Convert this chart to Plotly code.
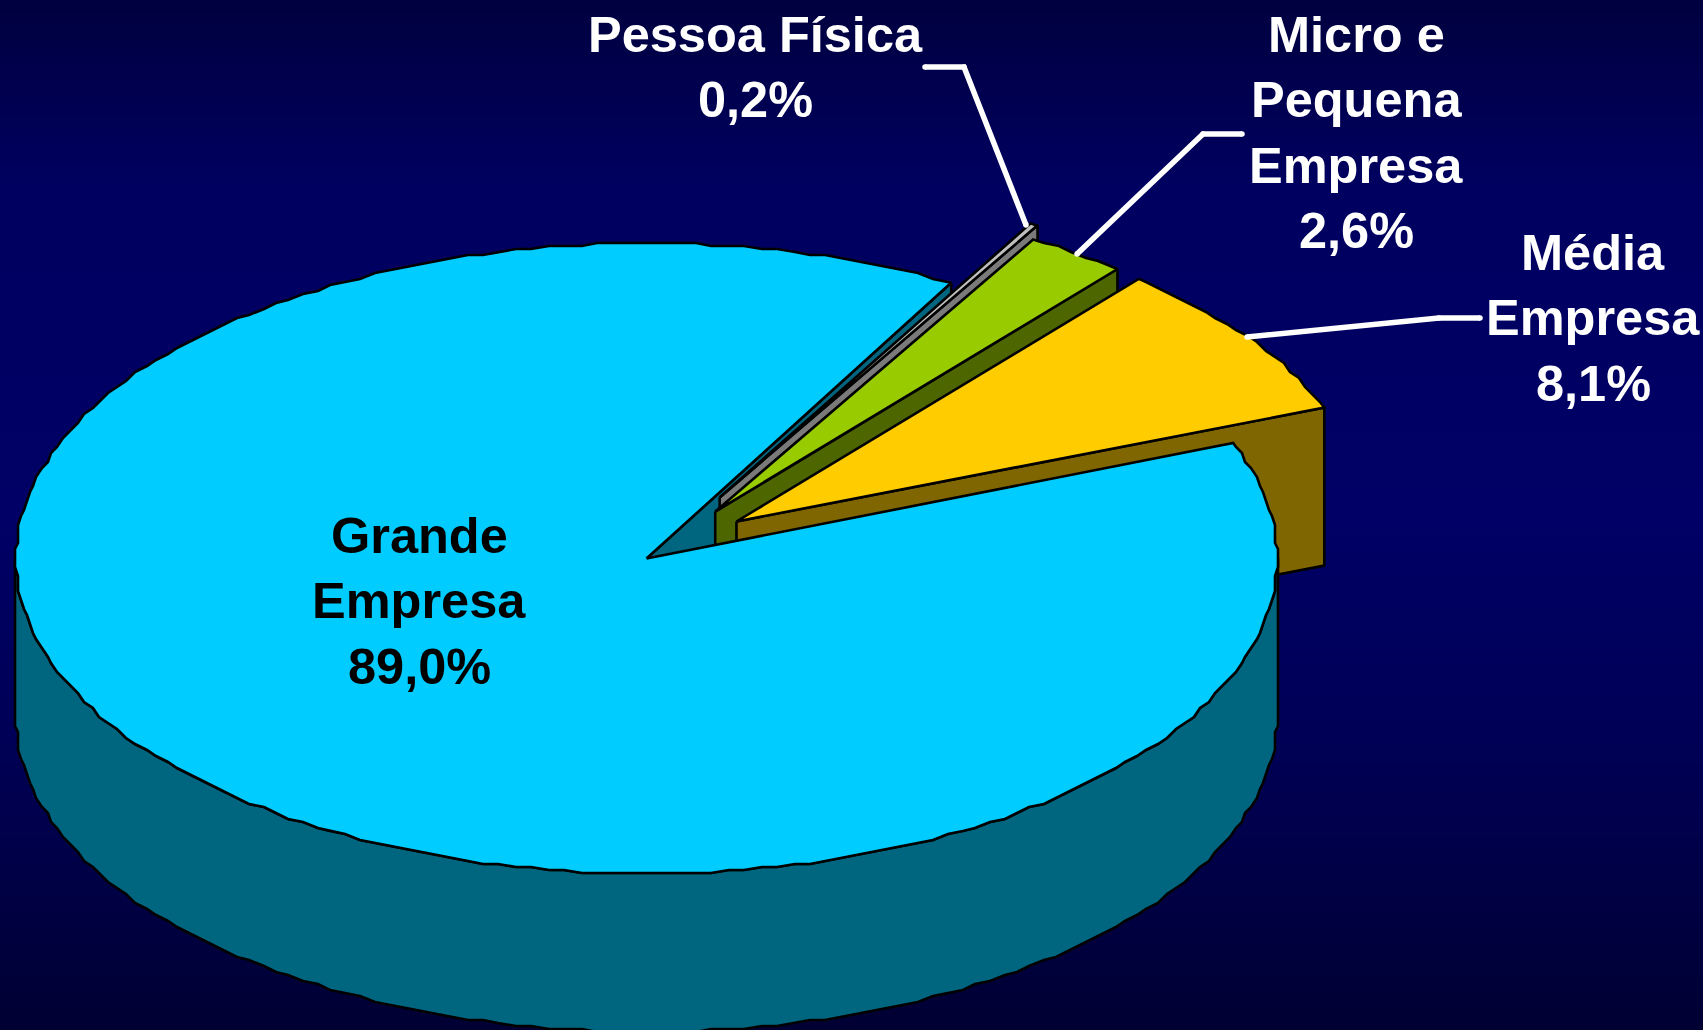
import numpy as np
import plotly.graph_objects as go

# ---- data ----
categories = ["Grande Empresa", "Pessoa Física", "Micro e Pequena Empresa", "Média Empresa"]
values = [89.0, 0.2, 2.6, 8.1]
label_lines = [["Grande", "Empresa", "89,0%"], ["Pessoa Física", "0,2%"],
               ["Micro e", "Pequena", "Empresa", "2,6%"], ["Média", "Empresa", "8,1%"]]

# ---- styles / layout ----
W, H = 1703, 1030
top_colors = ["#00CCFF", "#C0C0C0", "#99CC00", "#FFCC00"]
side_colors = ["#006680", "#7A7A7A", "#4D6600", "#806600"]
label_colors = ["black", "white", "white", "white"]
CX, CY, RX, RY, DEPTH = 646.5, 558.5, 630.5, 315.0, 158.0
START_ANGLE = 68.5          # big slice, clockwise from 12 o'clock
SMALL_START = 29.56         # first of the small slices
GRID = 3.0                  # the original outline is slightly quantised
STEP = 1.5                  # degrees between outline samples
explode = [(0, 0), (0.116, -0.194), (0.109, -0.149), (0.1427, -0.1175)]
label_x = [419, 755, 1356, 1593]
label_y = [535, 34, 34, 252]
LINE_STEP = 65.5
FONT = "Liberation Sans, Arial, sans-serif"
FONT_SIZE = 50.5
leaders = [
    ([925, 964, 1026], [67, 67, 225]),
    ([1242, 1203, 1077], [134, 134, 254]),
    ([1480, 1439, 1247], [318, 318, 337]),
]
bg_stops = [[0, "#00003F"], [0.18, "#000060"], [0.5, "#000066"], [0.72, "#000056"], [1, "#000033"]]

sweeps = [v / 100 * 360 for v in values]


def point(angle, ox, oy, dz=0.0):
    t = np.radians(angle)
    return CX + (ox + np.sin(t)) * RX, CY + (oy - np.cos(t)) * RY + dz


def arc(a0, a1, ox, oy, dz=0.0, snap_ends=False):
    """Outline samples on a fixed angular grid, so neighbouring outlines coincide."""
    lo, hi = min(a0, a1), max(a0, a1)
    inner = np.arange(np.floor(lo / STEP) + 1, np.ceil(hi / STEP)) * STEP
    angles = np.r_[lo, inner, hi]
    if a0 > a1:
        angles = angles[::-1]
    x, y = point(angles, ox, oy, dz)
    first, last = (None, None) if snap_ends else (1, -1)
    x[first:last] = np.round(x[first:last] / GRID) * GRID
    y[first:last] = np.round(y[first:last] / GRID) * GRID
    return x, y


def poly(xs, ys, color, name):
    return go.Scatter(x=list(xs), y=list(ys), mode="lines", fill="toself", fillcolor=color,
                      line=dict(color="black", width=2.6), hoverinfo="skip", name=name, showlegend=False)


def wedge(a0, a1, off):
    ax, ay = CX + off[0] * RX, CY + off[1] * RY
    x, y = arc(a0, a1, *off)
    return np.r_[ax, x, ax], np.r_[ay, y, ay]


def cut_wall(angle, off):
    """Radial wall below the ray at the given angle."""
    ax, ay = CX + off[0] * RX, CY + off[1] * RY
    ex, ey = point(angle, *off)
    return [ax, ex, ex, ax, ax], [ay, ey, ey + DEPTH, ay + DEPTH, ay]


# slice angle ranges, clockwise
ranges = [(START_ANGLE, START_ANGLE + sweeps[0])]
a = SMALL_START
for s in sweeps[1:]:
    ranges.append((a, a + s))
    a += s

fig = go.Figure()

# background gradient
rows = np.linspace(0, 1, 206)
fig.add_trace(go.Heatmap(x=[0, W], y=np.linspace(0, H, 206), z=np.c_[rows, rows], colorscale=bg_stops,
                         zmin=0, zmax=1, showscale=False, hoverinfo="skip", zsmooth="best"))

# wall of the big slice seen through the gap
g0, g1 = ranges[0]
xs, ys = cut_wall(g1, explode[0])
fig.add_trace(poly(xs, ys, side_colors[0], "Grande corte"))

# exploded slices, back to front
for i in (1, 2, 3):
    r0, r1 = ranges[i]
    xs, ys = cut_wall(r1, explode[i])
    fig.add_trace(poly(xs, ys, side_colors[i], categories[i] + " lateral"))
    xs, ys = wedge(r0, r1, explode[i])
    fig.add_trace(poly(xs, ys, top_colors[i], categories[i]))

# big slice: rim then top
bx, by = arc(90, 270, 0, 0, DEPTH, snap_ends=True)
tx, ty = arc(270, 90, 0, 0, snap_ends=True)
fig.add_trace(poly(np.r_[bx, tx, bx[0]], np.r_[by, ty, by[0]], side_colors[0], "Grande lateral"))
xs, ys = wedge(g0, g1, explode[0])
fig.add_trace(poly(xs, ys, top_colors[0], categories[0]))

# leader lines
for lx, ly in leaders:
    fig.add_trace(go.Scatter(x=lx, y=ly, mode="lines+markers", line=dict(color="white", width=5.5),
                             marker=dict(color="white", size=5.5), hoverinfo="skip", showlegend=False))

# labels
annotations = []
for lines, x0, y0, col in zip(label_lines, label_x, label_y, label_colors):
    for j, line in enumerate(lines):
        annotations.append(dict(x=x0, y=y0 + j * LINE_STEP, text=line, showarrow=False, xanchor="center",
                                yanchor="middle", font=dict(family=FONT, size=FONT_SIZE, color=col, weight=700)))

fig.update_layout(
    width=W, height=H, margin=dict(l=0, r=0, t=0, b=0), showlegend=False,
    paper_bgcolor="#000066", plot_bgcolor="#000066", annotations=annotations,
    xaxis=dict(range=[0, W], visible=False, fixedrange=True),
    yaxis=dict(range=[H, 0], visible=False, fixedrange=True),
)
fig.write_html("out.html", config={"displayModeBar": False},
               post_script="document.body.style.margin='0';document.body.style.overflow='hidden';")
